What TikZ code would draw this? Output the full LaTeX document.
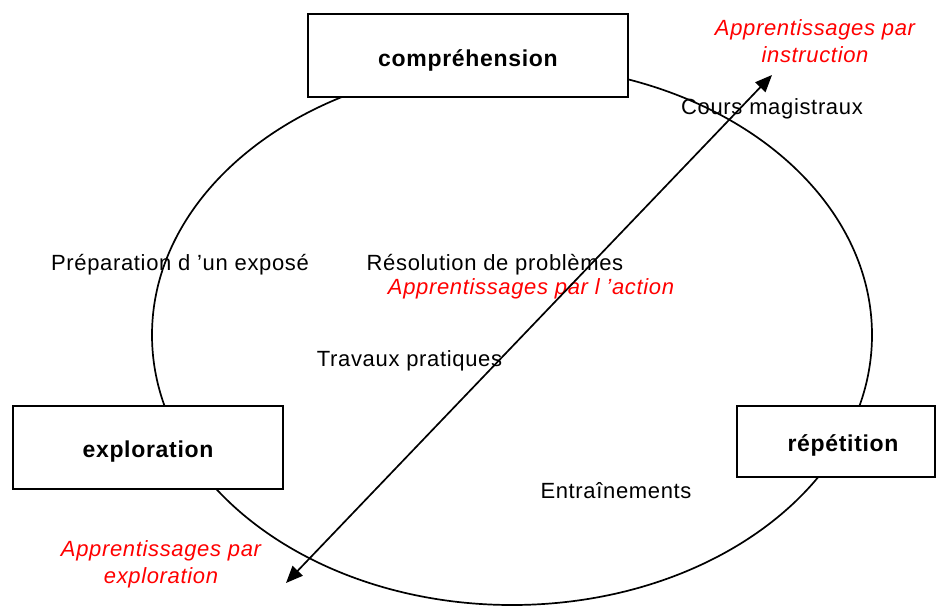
\documentclass[tikz,border=0pt]{standalone}
\usepackage{fontspec}
\setmainfont{Liberation Sans}[LetterSpace=3]
\usetikzlibrary{arrows.meta}
\newcommand{\lowertxt}[2]{\raisebox{-#1}[\height][\depth]{#2}}
\begin{document}
\begin{tikzpicture}[x=1pt,y=-1pt,
  box/.style={draw, line width=1.7pt, fill=white, inner sep=0pt,
    font=\fontsize{23}{27}\selectfont\bfseries},
  lbl/.style={inner sep=0pt, font=\fontsize{22}{26}\selectfont},
  redlbl/.style={inner sep=0pt, text=red, align=center,
    font=\fontsize{22}{27}\selectfont\itshape},
  dblarrow/.style={line width=1.7pt, >={Triangle[length=17pt,width=14pt]}, <->}]
\useasboundingbox (0,0) rectangle (937,606);
% cycle
\draw[line width=1.7pt] (512,335) ellipse [x radius=360, y radius=270];
% boxes
\node[box, minimum width=320pt, minimum height=83pt] (comp) at (468,55.5) {\lowertxt{5pt}{compréhension}};
\node[box, minimum width=270pt, minimum height=83pt] (expl) at (148,447.5) {\lowertxt{4pt}{exploration}};
\node[box, minimum width=198pt, minimum height=71pt] (rep) at (836,441.5) {\hspace*{14pt}\lowertxt{4pt}{répétition}};
% labels
\node[lbl] (cours) at (772,109) {Cours magistraux};
\node[lbl] (prep) at (180,265) {Préparation d ’un exposé};
\node[lbl] (reso) at (495,265) {Résolution de problèmes};
\node[redlbl] (action) at (531,289) {Apprentissages par l ’action};
\node[lbl] (tp) at (409.5,361) {Travaux pratiques};
\node[lbl] (entr) at (616,491) {Entraînements};
\node[redlbl] (instr) at (815,41) {Apprentissages par\\instruction};
\node[redlbl] (explo) at (161,564) {Apprentissages par\\exploration};
% double arrow
\coordinate (tipA) at (286,583);
\coordinate (tipB) at (772,75);
\draw[dblarrow] (tipA) -- (tipB);
\end{tikzpicture}
\end{document}
